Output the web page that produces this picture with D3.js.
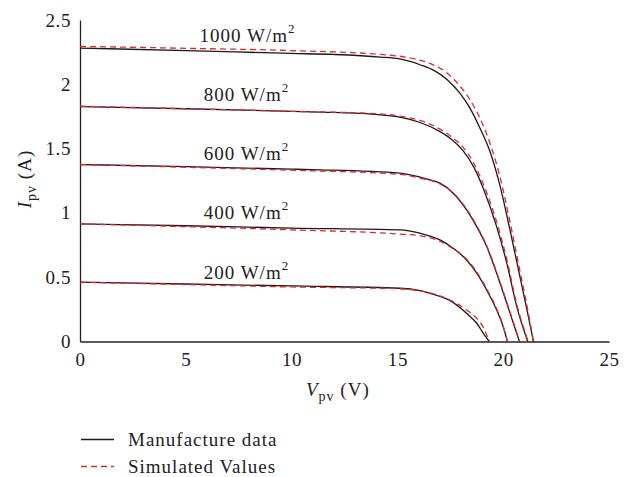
<!DOCTYPE html>
<meta charset="utf-8">
<title>I-V curves</title>
<style>
body { margin: 0; background: #fff; }
svg { font-family: "Liberation Serif", "Times New Roman", serif; }
.axis path { stroke: #222; stroke-width: 1.3px; }
.manuf { fill: none; stroke: #1a1a1a; stroke-width: 1.3px; }
.sim { fill: none; stroke: #e02a2a; stroke-width: 1.3px; stroke-dasharray: 6,4; }
.lbl { font-size: 19px; fill: #222; letter-spacing: 1px; }
</style>
<svg width="632" height="477"></svg>
<script src="https://d3js.org/d3.v7.min.js"></script>
<script>
// irradiance levels and where each label sits (V, I)
var irradiance = [1000, 800, 600, 400, 200];
var labelPos = [[5.65, 2.33], [5.85, 1.87], [5.85, 1.41], [5.85, 0.95], [5.85, 0.485]];

// manufacture data, [V, I]
var manuf1000 = [[0,2.282],[5,2.262],[10,2.24],[12,2.232],[14.2,2.212],[15.1,2.197],[15.6,2.178],[16.07,2.152],[16.7,2.11],[17.33,2.04],[17.96,1.93],[18.43,1.815],[18.9,1.66],[19.38,1.475],[19.85,1.21],[20.32,0.868],[20.79,0.504],[21.19,0.193],[21.43,0]];
var manuf800 = [[0,1.827],[5,1.81],[10,1.79],[11.34,1.784],[14.18,1.763],[15.12,1.745],[16.07,1.703],[16.86,1.646],[17.49,1.581],[18.11,1.483],[18.6,1.36],[19.06,1.19],[19.69,0.893],[20.17,0.609],[20.64,0.271],[21.16,0]];
var manuf600 = [[0,1.376],[5,1.36],[10,1.34],[11.34,1.335],[15.12,1.309],[16.07,1.278],[16.54,1.257],[17.01,1.231],[17.64,1.153],[18.27,1.023],[18.75,0.893],[19.22,0.738],[19.69,0.531],[20.17,0.297],[20.48,0.142],[20.77,0]];
var manuf400 = [[0,0.914],[5,0.9],[10,0.882],[15.12,0.868],[16.07,0.842],[17.01,0.79],[17.64,0.725],[18.27,0.634],[18.75,0.531],[19.22,0.40],[19.69,0.245],[20.0,0.115],[20.2,0]];
var manuf200 = [[0,0.461],[5,0.447],[10,0.432],[15.12,0.414],[16.07,0.395],[16.54,0.375],[17.01,0.35],[17.49,0.318],[18.27,0.219],[18.75,0.142],[19.06,0.064],[19.34,0]];

// simulated values, [V, I]
var sim1000 = [[0,2.295],[5,2.28],[10,2.262],[14.2,2.232],[15.75,2.2],[16.5,2.165],[17.33,2.09],[17.96,1.985],[18.43,1.88],[18.9,1.737],[19.38,1.54],[19.85,1.28],[20.32,0.93],[20.79,0.55],[21.19,0.22],[21.43,0]];
var sim800 = [[0,1.83],[5,1.81],[10,1.79],[14.18,1.77],[15.12,1.752],[16.07,1.72],[16.86,1.665],[17.49,1.6],[18.11,1.51],[18.6,1.39],[19.06,1.225],[19.69,0.93],[20.17,0.64],[20.64,0.29],[21.18,0]];
var sim600 = [[0,1.376],[5,1.355],[10,1.332],[15.12,1.30],[16.07,1.27],[17.01,1.225],[17.64,1.155],[18.27,1.03],[18.75,0.9],[19.22,0.745],[19.69,0.54],[20.17,0.305],[20.48,0.15],[20.77,0]];
var sim400 = [[0,0.914],[5,0.893],[10,0.868],[15.12,0.835],[16.07,0.822],[17.01,0.78],[17.64,0.72],[18.27,0.64],[18.75,0.54],[19.22,0.41],[19.69,0.255],[20.0,0.12],[20.2,0]];
var sim200 = [[0,0.461],[5,0.443],[10,0.424],[15.12,0.41],[16.07,0.393],[17.01,0.355],[17.64,0.31],[18.27,0.245],[18.75,0.18],[19.06,0.11],[19.34,0]];

var xTicks = [0, 5, 10, 15, 20, 25];
var yTicks = [0, 0.5, 1, 1.5, 2, 2.5];

var manuf = [manuf1000, manuf800, manuf600, manuf400, manuf200];
var sim = [sim1000, sim800, sim600, sim400, sim200];

var serif = '"Liberation Serif", "Times New Roman", serif';
var svg = d3.select("svg");

var x = d3.scaleLinear().domain([0, 25]).range([80, 609]);
var y = d3.scaleLinear().domain([0, 2.5]).range([341.5, 20]);

var line = d3.line()
    .x(function(d) { return x(d[0]); })
    .y(function(d) { return y(d[1]); })
    .curve(d3.curveMonotoneX);

// axes, no tick marks
var gx = svg.append("g")
    .attr("class", "axis")
    .attr("transform", "translate(0," + y(0) + ")")
    .call(d3.axisBottom(x).tickValues(xTicks).tickSize(0).tickPadding(11).tickFormat(d3.format("d")));

var gy = svg.append("g")
    .attr("class", "axis")
    .attr("transform", "translate(" + x(0) + ",0)")
    .call(d3.axisLeft(y).tickValues(yTicks).tickSize(0).tickPadding(9).tickFormat(function(d) { return d; }));

svg.selectAll(".axis")
    .attr("font-family", serif)
    .attr("font-size", 19);
svg.selectAll(".axis text")
    .style("font-family", serif)
    .style("font-size", "19px")
    .style("letter-spacing", "0.6px")
    .attr("fill", "#222");

svg.append("g").selectAll("path")
    .data(manuf)
    .enter().append("path")
      .attr("class", "manuf")
      .attr("d", line);

svg.append("g").selectAll("path")
    .data(sim)
    .enter().append("path")
      .attr("class", "sim")
      .attr("d", line);

// irradiance labels
var lbl = svg.append("g").selectAll("text")
    .data(irradiance)
    .enter().append("text")
      .attr("class", "lbl")
      .attr("x", function(d, i) { return x(labelPos[i][0]); })
      .attr("y", function(d, i) { return y(labelPos[i][1]); });
lbl.append("tspan").text(function(d) { return d + " W/m"; });
lbl.append("tspan").attr("dy", -9).style("font-size", "13px").text("2");

// axis titles
var xt = svg.append("text")
    .attr("class", "lbl")
    .attr("x", 306)
    .attr("y", 396);
xt.append("tspan").style("font-style", "italic").text("V");
xt.append("tspan").attr("dy", 5).style("font-size", "14px").text("pv");
xt.append("tspan").attr("dy", -5).text(" (V)");

var yt = svg.append("text")
    .attr("class", "lbl")
    .attr("transform", "translate(31,179) rotate(-90)")
    .attr("text-anchor", "middle");
yt.append("tspan").style("font-style", "italic").text("I");
yt.append("tspan").attr("dy", 5).style("font-size", "14px").text("pv");
yt.append("tspan").attr("dy", -5).text(" (A)");

// legend
var legendItems = ["Manufacture data", "Simulated Values"];
var legend = svg.append("g").selectAll("g")
    .data(legendItems)
    .enter().append("g")
      .attr("transform", function(d, i) { return "translate(81," + (439.5 + i * 27) + ")"; });
legend.append("line")
    .attr("class", function(d, i) { return i ? "sim" : "manuf"; })
    .attr("x1", 0).attr("x2", 33).attr("y1", 0).attr("y2", 0);
legend.append("text")
    .attr("class", "lbl")
    .attr("x", 47)
    .attr("y", 6)
    .text(function(d) { return d; });
</script>
